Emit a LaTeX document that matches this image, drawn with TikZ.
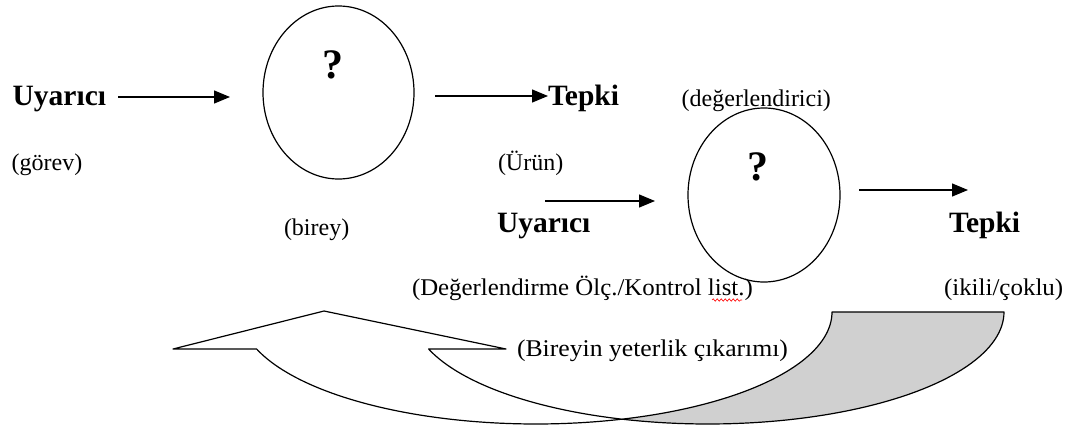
\documentclass[tikz,border=0pt]{standalone}
\usepackage{fontspec}
\usepackage{graphicx}
\setmainfont{Liberation Serif}
\usetikzlibrary{shapes.geometric,arrows.meta,decorations.pathmorphing}
\tikzset{
  plainlbl/.style={anchor=base west, inner sep=0pt, outer sep=0pt, font=\fontsize{24}{28}\selectfont},
  boldlbl/.style={anchor=base west, inner sep=0pt, outer sep=0pt, font=\fontsize{29.5}{34}\selectfont\bfseries},
  qmark/.style={anchor=base west, inner sep=0pt, outer sep=0pt, font=\fontsize{42}{46}\selectfont\bfseries},
  oval/.style={ellipse, draw, line width=1.2pt, inner sep=0pt, outer sep=0pt},
  arr/.style={-{Triangle[length=16pt,width=13pt]}, line width=1.3pt},
  bandline/.style={line width=1.2pt, line join=round}
}
\begin{document}
\begin{tikzpicture}[x=1pt,y=-1pt]
\useasboundingbox (0,0) rectangle (1079,428);
\fill[white] (0,0) rectangle (1079,428);

% first row
\node[boldlbl] (u1) at (12.7,106) {Uyarıcı};
\node[plainlbl] (g1) at (11.7,170) {(görev)};
\node[oval, minimum width=151pt, minimum height=173pt] (e1) at (338.5,92.5) {};
\node[qmark] (q1) at (322,78) {?};
\node[plainlbl] (b1) at (284,235) {(birey)};
\node[boldlbl] (t1) at (548,106) {Tepki};
\node[plainlbl] (r1) at (498,170) {(Ürün)};

\coordinate (a1s) at (118,97);
\coordinate (a1e) at (230,97);
\draw[arr] (a1s) -- (a1e);
\coordinate (a2s) at (435,96);
\coordinate (a2e) at (548,96);
\draw[arr] (a2s) -- (a2e);

% second row
\node[plainlbl] (d2) at (681.7,106.7) {(değerlendirici)};
\node[oval, minimum width=152pt, minimum height=174pt] (e2) at (764,195) {};
\node[qmark] (q2) at (747,180) {?};
\node[boldlbl] (u2) at (497,232) {Uyarıcı};
\node[boldlbl] (t2) at (949,232) {Tepki};
\node[plainlbl] (k2) at (412,295) {\scalebox{1.035}[1]{(Değerlendirme Ölç./Kontrol list.)}};
\node[plainlbl] (c2) at (944,295) {\scalebox{1.04}[1]{(ikili/çoklu)}};
\draw[red, line width=0.6pt, decorate, decoration={snake, amplitude=1.2pt, segment length=4pt}] (712,300) -- (742,300);

\coordinate (a3s) at (545,201);
\coordinate (a3e) at (655,201);
\draw[arr] (a3s) -- (a3e);
\coordinate (a4s) at (859,190);
\coordinate (a4e) at (968,190);
\draw[arr] (a4s) -- (a4e);

% curved up arrow
\fill[fill={rgb,255:red,208;green,208;blue,208}]
  plot[domain=106.9:0, samples=60, variable=\t] ({708+296*cos(\t)},{312+112*sin(\t)})
  -- (832,312)
  -- plot[domain=0:73.1, samples=60, variable=\t] ({536+296*cos(\t)},{312+112*sin(\t)})
  -- cycle;
\draw[bandline]
  plot[domain=106.9:0, samples=60, variable=\t] ({708+296*cos(\t)},{312+112*sin(\t)})
  -- (832,312)
  -- plot[domain=0:73.1, samples=60, variable=\t] ({536+296*cos(\t)},{312+112*sin(\t)});
\draw[bandline, fill=white]
  (173,349) -- (324,311) -- (506,349) -- (428.6,349)
  -- plot[domain=160.7:106.9, samples=60, variable=\t] ({708+296*cos(\t)},{312+112*sin(\t)})
  -- plot[domain=73.1:160.7, samples=60, variable=\t] ({536+296*cos(\t)},{312+112*sin(\t)})
  -- cycle;
\node[plainlbl] (y1) at (517,356) {\scalebox{1.07}[1]{(Bireyin yeterlik çıkarımı)}};
\end{tikzpicture}
\end{document}
